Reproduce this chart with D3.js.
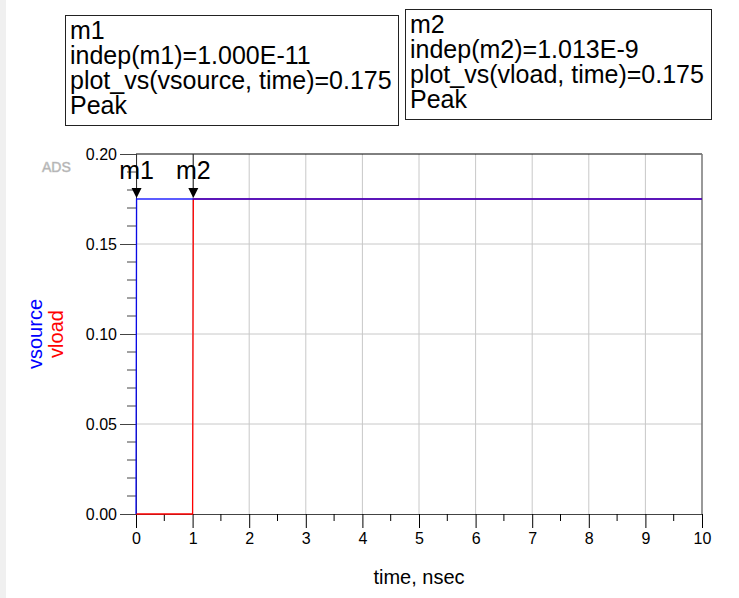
<!DOCTYPE html>
<html>
<head>
<meta charset="utf-8">
<script src="https://cdn.jsdelivr.net/npm/d3@7"></script>
<style>
  body { margin: 0; background: #fff; }
  svg { font-family: "Liberation Sans", Arial, sans-serif; }
</style>
</head>
<body>
<svg id="chart" width="739" height="598"></svg>
<script>
// data
var timeNs  = [0, 0.01, 1.0, 1.013, 10];
var vsource = [0, 0.175, 0.175, 0.175, 0.175];
var vload   = [0, 0, 0, 0.175, 0.175];

var xTicks = [0, 1, 2, 3, 4, 5, 6, 7, 8, 9, 10];
var yTicks = [0, 0.05, 0.10, 0.15, 0.20];

var markerNames = ["m1", "m2"];
var markerTime  = [0.01, 1.013];
var markerValue = [0.175, 0.175];
var markerText = [
    ["m1", "indep(m1)=1.000E-11", "plot_vs(vsource, time)=0.175", "Peak"],
    ["m2", "indep(m2)=1.013E-9", "plot_vs(vload, time)=0.175", "Peak"]
];

var svg = d3.select("#chart");

// grey strip on the left edge
svg.append("rect").attr("x", 0).attr("y", 0).attr("width", 6).attr("height", 598).attr("fill", "#f0f0f0");

var x = d3.scaleLinear().domain([0, 10]).range([136, 702]);
var y = d3.scaleLinear().domain([0, 0.20]).range([514, 154]);

// grid
svg.append("g").selectAll("line").data(xTicks.slice(1, -1)).enter().append("line")
    .attr("x1", d => x(d)).attr("x2", d => x(d)).attr("y1", y(0.2)).attr("y2", y(0))
    .attr("stroke", "#c8c8c8");
svg.append("g").selectAll("line").data(yTicks.slice(1, -1)).enter().append("line")
    .attr("x1", x(0)).attr("x2", x(10)).attr("y1", d => y(d)).attr("y2", d => y(d))
    .attr("stroke", "#c8c8c8");

// frame
svg.append("line").attr("x1", x(0)).attr("x2", x(10)).attr("y1", y(0.2)).attr("y2", y(0.2)).attr("stroke", "#000");
svg.append("line").attr("x1", x(10)).attr("x2", x(10)).attr("y1", y(0.2)).attr("y2", y(0)).attr("stroke", "#777").attr("stroke-width", 1.5);

// y axis
var yAxis = d3.axisLeft(y).tickValues(yTicks).tickFormat(d3.format(".2f")).tickSize(16).tickPadding(3);
var gy = svg.append("g").attr("transform", "translate(" + x(0) + ",0)").call(yAxis);
gy.select(".domain").attr("stroke", "#444");
gy.selectAll(".tick line").attr("stroke", "#444");
gy.selectAll("text").attr("font-size", 16).attr("fill", "#000").attr("font-family", "Liberation Sans, Arial, sans-serif");
var yMinor = d3.range(1, 20).filter(i => i % 5 != 0).map(i => i / 100);
svg.append("g").selectAll("line").data(yMinor).enter().append("line")
    .attr("x1", x(0) - 9).attr("x2", x(0)).attr("y1", d => y(d)).attr("y2", d => y(d))
    .attr("stroke", "#444");

// x axis
var xAxis = d3.axisBottom(x).tickValues(xTicks).tickFormat(d3.format("d")).tickSizeInner(14).tickSizeOuter(0).tickPadding(5);
var gx = svg.append("g").attr("transform", "translate(0," + y(0) + ")").call(xAxis);
gx.select(".domain").attr("stroke", "#444");
gx.selectAll(".tick line").attr("stroke", "#000");
gx.selectAll("text").attr("font-size", 16).attr("fill", "#000").attr("font-family", "Liberation Sans, Arial, sans-serif");
var xMinor = d3.range(0.5, 10, 1);
svg.append("g").selectAll("line").data(xMinor).enter().append("line")
    .attr("x1", d => x(d)).attr("x2", d => x(d)).attr("y1", y(0)).attr("y2", y(0) + 7)
    .attr("stroke", "#000");

// axis titles
svg.append("text").attr("x", x(5)).attr("y", 584).attr("text-anchor", "middle")
    .attr("font-size", 20).text("time, nsec");
svg.append("text").attr("transform", "translate(42," + y(0.1) + ") rotate(-90)")
    .attr("text-anchor", "middle").attr("font-size", 20).attr("fill", "#0000ff").text("vsource");
svg.append("text").attr("transform", "translate(63," + y(0.1) + ") rotate(-90)")
    .attr("text-anchor", "middle").attr("font-size", 20).attr("fill", "#ff0000").text("vload");

svg.append("text").attr("x", 42).attr("y", 172).attr("font-size", 14).attr("fill", "#a0a0a0")
    .attr("stroke", "#c8c8c8").attr("stroke-width", 0.6).text("ADS");

// traces
var pts = timeNs.map((t, i) => i);
var line = function (vals) {
    return d3.line().x(i => x(timeNs[i])).y(i => y(vals[i]))(pts);
};
svg.append("path").attr("d", line(vload)).attr("fill", "none").attr("stroke", "#ff0000").attr("stroke-width", 1.3);
svg.append("path").attr("d", line(vsource)).attr("fill", "none").attr("stroke", "#0000ff").attr("stroke-width", 1.4).attr("stroke-opacity", 0.85);

// markers
markerNames.forEach(function (name, i) {
    var mx = x(markerTime[i]), my = y(markerValue[i]);
    svg.append("line").attr("x1", mx).attr("x2", mx).attr("y1", y(0.2)).attr("y2", my - 10)
        .attr("stroke", "#333");
    svg.append("path").attr("d", "M" + (mx - 5) + "," + (my - 11) + "L" + (mx + 5) + "," + (my - 11) + "L" + mx + "," + (my - 1) + "Z")
        .attr("fill", "#000");
    svg.append("text").attr("x", mx).attr("y", 179).attr("text-anchor", "middle")
        .attr("font-size", 25).text(name);
});

// marker readout boxes
var boxes = [
    {x: 65.5, y: 15.5, w: 333, h: 110, tx: 70, ty: 39},
    {x: 405.5, y: 9.5, w: 306, h: 110, tx: 410, ty: 33}
];
boxes.forEach(function (b, i) {
    svg.append("rect").attr("x", b.x).attr("y", b.y).attr("width", b.w).attr("height", b.h)
        .attr("fill", "#fff").attr("stroke", "#222");
    svg.append("g").selectAll("text").data(markerText[i]).enter().append("text")
        .attr("x", b.tx).attr("y", (d, j) => b.ty + j * 25)
        .attr("font-size", 25).text(d => d);
});
</script>
</body>
</html>
